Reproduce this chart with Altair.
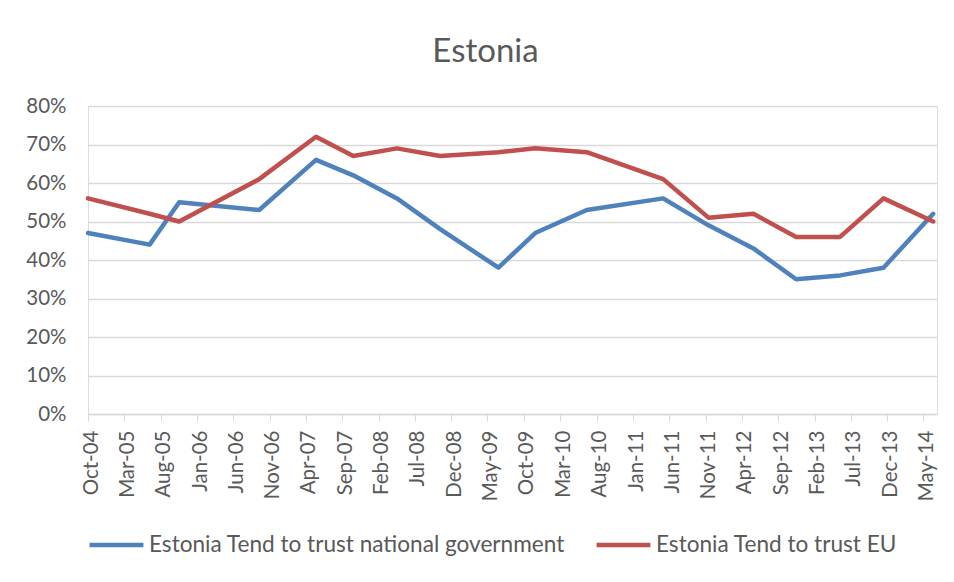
import altair as alt
import pandas as pd

# ---- data ----
survey_dates = ["2004-10-01", "2005-06-16", "2005-10-18", "2006-09-18", "2007-05-14",
                "2007-10-17", "2008-04-17", "2008-10-15", "2009-06-16", "2009-11-17",
                "2010-06-21", "2011-05-07", "2011-11-13", "2012-05-19", "2012-11-14",
                "2013-05-17", "2013-11-15", "2014-06-11"]
trust_gov = [47, 44, 55, 53, 66, 62, 56, 48, 38, 47, 53, 56, 49, 43, 35, 36, 38, 52]
trust_eu = [56, 52, 50, 61, 72, 67, 69, 67, 68, 69, 68, 61, 51, 52, 46, 46, 56, 50]

series_names = ["Estonia Tend to trust national government", "Estonia Tend to trust EU"]
series_colors = ["#4F81BD", "#C0504D"]

# x tick positions (year, month) -> labelled "%b-%y"
tick_months = [(2004, 10), (2005, 3), (2005, 8), (2006, 1), (2006, 6), (2006, 11),
               (2007, 4), (2007, 9), (2008, 2), (2008, 7), (2008, 12), (2009, 5),
               (2009, 10), (2010, 3), (2010, 8), (2011, 1), (2011, 6), (2011, 11),
               (2012, 4), (2012, 9), (2013, 2), (2013, 7), (2013, 12), (2014, 5)]
y_ticks = [0, 0.1, 0.2, 0.3, 0.4, 0.5, 0.6, 0.7, 0.8]

rows = []
for d, g, e in zip(survey_dates, trust_gov, trust_eu):
    rows.append({"date": d, "series": series_names[0], "value": g / 100})
    rows.append({"date": d, "series": series_names[1], "value": e / 100})
df = pd.DataFrame(rows)

tick_values = [alt.DateTime(year=y, month=m, date=1, utc=True) for y, m in tick_months]
x_domain = [alt.DateTime(year=2004, month=10, date=1, utc=True),
            alt.DateTime(year=2014, month=6, date=27, utc=True)]

FONT = "Lato"
TXT = "#595959"
GRID = "#D9D9D9"

chart = alt.Chart(df).mark_line(
    strokeWidth=4.5, strokeCap="round", strokeJoin="round"
).encode(
    x=alt.X("date:T",
            scale=alt.Scale(type="utc", domain=x_domain),
            axis=alt.Axis(values=tick_values,
                          labelExpr="utcFormat(datum.value, '%b-%y')",
                          labelAngle=-90, labelFontSize=20.5, labelColor=TXT, labelFont=FONT,
                          labelPadding=9, labelOffset=3,
                          tickSize=7, tickColor=GRID, tickWidth=1,
                          domainColor=GRID, domainWidth=1.5,
                          grid=False, title=None, labelOverlap=False)),
    y=alt.Y("value:Q",
            scale=alt.Scale(domain=[0, 0.8], nice=False),
            axis=alt.Axis(values=y_ticks, format=".0%",
                          labelFontSize=20.5, labelColor=TXT, labelFont=FONT,
                          labelPadding=22, tickSize=0, domain=False,
                          grid=True, gridColor=GRID, gridWidth=1.3,
                          title=None)),
    color=alt.Color("series:N",
                    scale=alt.Scale(domain=series_names, range=series_colors),
                    sort=series_names,
                    legend=alt.Legend(orient="none", direction="horizontal",
                                      legendX=-1, legendY=409,
                                      title=None, symbolType="stroke",
                                      symbolSize=2900, symbolStrokeWidth=4.5,
                                      labelFontSize=22.6, labelColor=TXT, labelFont=FONT,
                                      labelOffset=3, columnPadding=22, padding=0,
                                      labelLimit=600)),
).properties(
    width=849,
    height=308,
    title=alt.TitleParams("Estonia", fontSize=33, font=FONT, color=TXT,
                          fontWeight="normal", anchor="middle", dx=-27, offset=27),
    autosize=alt.AutoSizeParams(type="none"),
    padding={"left": 80, "top": 98, "right": 5, "bottom": 158},
).configure_view(stroke=None).configure(background="white")

chart.save("out.html", embed_options={"renderer": "svg", "actions": False})
